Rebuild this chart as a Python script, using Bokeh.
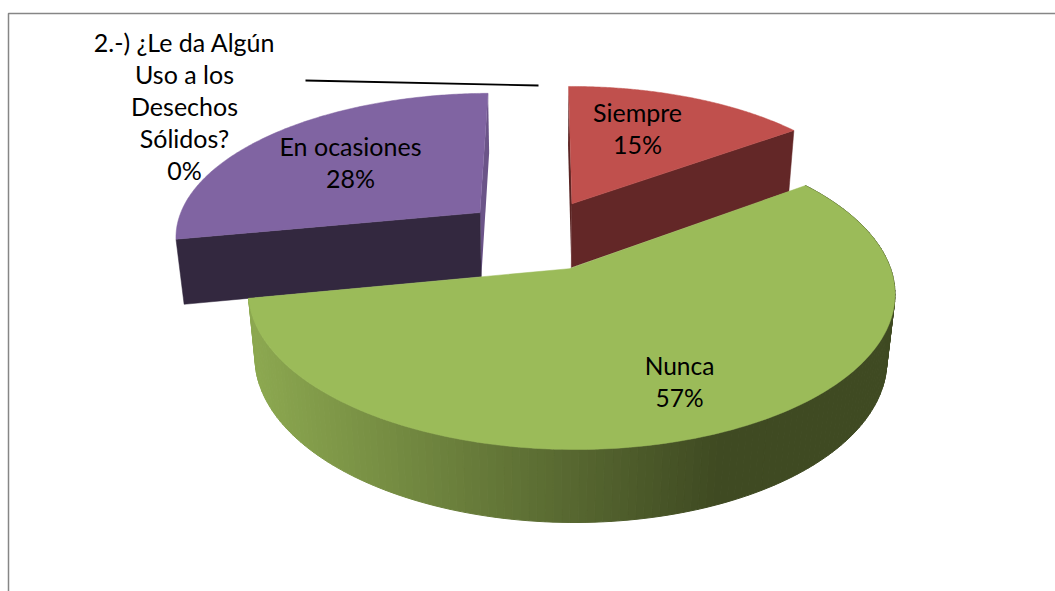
import numpy as np
from bokeh.plotting import figure
from bokeh.models import Range1d
from bokeh.core.properties import value
from bokeh.embed import file_html
from bokeh.resources import INLINE

categories = ["Siempre", "Nunca", "En ocasiones"]
percent = [15, 57, 28]
zero_label = ["2.-) ¿Le da Algún", "Uso a los", "Desechos", "Sólidos?"]
zero_percent = 0

# Perspective projection of the unit pie disk onto the page (px / 1000)
H = np.array([[0.30573, 0.08012, 0.53728],
              [-0.0016, -0.10852, 0.23426],
              [-0.00515, 0.14719, 1.0]])
EXPLODE = 0.25
W, HT = 1055, 591


def top(dx, dy):
    q = H @ np.vstack([dx, dy, np.ones_like(dx)])
    return q[0] / q[2] * 1000, q[1] / q[2] * 1000


def drop(x, y):
    h = 61 + (y - 130) * 0.0376
    return x + (543 - x) * h / (3180 - y), y + h


def rim(a0, a1, e_dir, n=160):
    ang = np.radians(np.linspace(a0, a1, n))
    return top(EXPLODE * np.sin(e_dir) + np.sin(ang), EXPLODE * np.cos(e_dir) + np.cos(ang))


p = figure(width=W, height=HT, x_range=Range1d(0, W), y_range=Range1d(HT, 0),
           output_backend="svg", toolbar_location=None, min_border=0)
p.axis.visible = False
p.grid.visible = False
p.outline_line_color = None
p.background_fill_color = "white"

p.line([8, 8, W], [HT, 13, 13], line_color="#868686", line_width=1.5)

tops = {"Siempre": "#C0504D", "Nunca": "#9BBB59", "En ocasiones": "#8064A2"}
cuts = {"Siempre": "#632727", "En ocasiones": "#33283F"}
sliv = {"Siempre": "#5A2423", "En ocasiones": "#6B5488"}

bounds = np.cumsum([0] + percent) * 3.6
for i in [2, 0, 1]:
    a0, a1 = bounds[i], bounds[i + 1]
    name = categories[i]
    mid = np.radians((a0 + a1) / 2)
    rx, ry = rim(a0, a1, mid)
    ax, ay = top(np.array([EXPLODE * np.sin(mid)]), np.array([EXPLODE * np.cos(mid)]))
    if name == "Nunca":
        bx, by = drop(rx, ry)
        xs, ys, cs = [], [], []
        c0, c1 = np.array([0x8C, 0xA8, 0x50]), np.array([0x3F, 0x4A, 0x22])
        for k in range(len(rx) - 1):
            xs.append([rx[k], rx[k + 1], bx[k + 1], bx[k]])
            ys.append([ry[k], ry[k + 1], by[k + 1], by[k]])
            t = np.clip((rx[k] - 255) / (725 - 255), 0, 1)
            c = c0 + (c1 - c0) * t
            cs.append("#%02x%02x%02x" % tuple(int(v) for v in c))
        p.patches(xs, ys, fill_color=cs, line_color=cs, line_width=1)
    else:
        near = 0 if name == "En ocasiones" else -1
        far = -1 if name == "En ocasiones" else 0
        ex, ey, fx, fy = rx[near], ry[near], rx[far], ry[far]
        abx, aby = drop(ax, ay)
        ebx, eby = drop(ex, ey)
        fbx, fby = drop(fx, fy)
        p.patch([fx, ax[0], abx[0], fbx], [fy, ay[0], aby[0], fby], fill_color=sliv[name], line_color=None)
        p.patch([ax[0], ex, ebx, abx[0]], [ay[0], ey, eby, aby[0]], fill_color=cuts[name],
                line_color=cuts[name], line_width=0.5)
    p.patch(np.r_[ax, rx], np.r_[ay, ry], fill_color=tops[name], line_color=tops[name], line_width=0.5)

# leader line of the zero slice
p.line([305, 538], [80, 85], line_color="black", line_width=1.8)

F = value("Lato")


def lab(xc, yc, lines, size="24.5px"):
    y = [yc + 32 * j for j in range(len(lines))]
    p.text([xc] * len(lines), y, text=lines, text_font=F, text_font_size=size, text_color="black",
           text_align="center", text_baseline="middle")


pct = [f"{v}%" for v in percent]
lab(637, 111, [categories[0], pct[0]], "25px")
lab(679, 365, [categories[1], pct[1]])
lab(350, 145, [categories[2], pct[2]], "25px")
lab(184, 41, zero_label + [f"{zero_percent}%"], "25px")

open("out.html", "w").write(file_html(p, INLINE))
